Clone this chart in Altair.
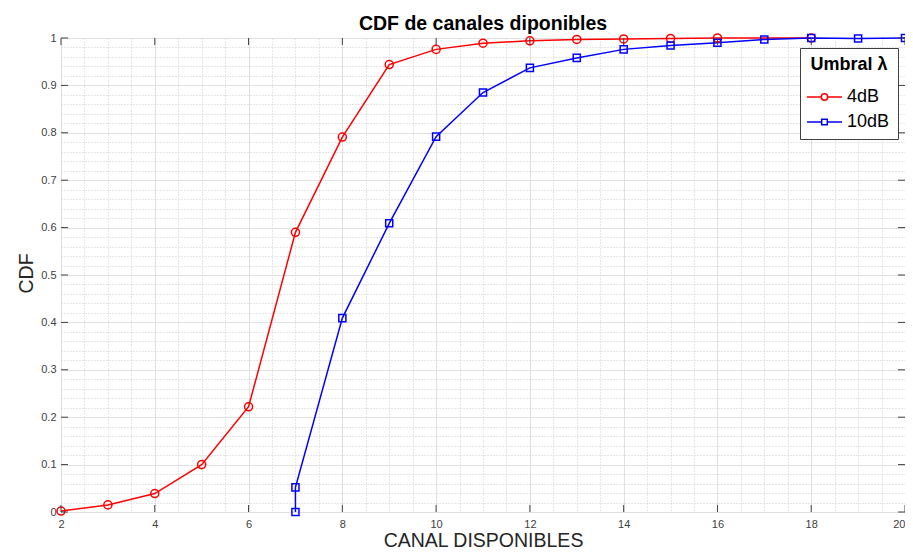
import altair as alt
import pandas as pd

# ---------------- data ----------------
series_names = ["4dB", "10dB"]
series_colors = ["#ff0000", "#0000ff"]

x_4db = [2, 3, 4, 5, 6, 7, 8, 9, 10, 11, 12, 13, 14, 15, 16, 18]
y_4db = [0.002, 0.015, 0.039, 0.100, 0.222, 0.590, 0.791, 0.944, 0.976,
         0.989, 0.994, 0.997, 0.998, 0.999, 1.0, 1.0]

x_10db = [7, 7, 8, 9, 10, 11, 12, 13, 14, 15, 16, 17, 18, 19, 20]
y_10db = [0.0, 0.052, 0.409, 0.609, 0.792, 0.885, 0.937, 0.958, 0.976,
          0.984, 0.990, 0.997, 1.0, 0.999, 1.0]

x_major = [2, 4, 6, 8, 10, 12, 14, 16, 18, 20]
y_major = [0, 0.1, 0.2, 0.3, 0.4, 0.5, 0.6, 0.7, 0.8, 0.9, 1.0]
x_grid = [2 + 0.5 * i for i in range(37)]
y_grid = [round(0.02 * i, 2) for i in range(51)]

# legend symbols: short line with a marker (circle for 4dB, square for 10dB)
legend_paths = [
    "M-1.2,0H0.23M0.87,0H2.3M0.87,0A0.32,0.32,0,1,1,0.23,0A0.32,0.32,0,1,1,0.87,0",
    "M-1.2,0H0.27M0.83,0H2.3M0.27,-0.28H0.83V0.28H0.27Z",
]

rows = []
for i, (x, y) in enumerate(zip(x_4db, y_4db)):
    rows.append({"series": "4dB", "x": x, "y": y, "idx": i})
for i, (x, y) in enumerate(zip(x_10db, y_10db)):
    rows.append({"series": "10dB", "x": x, "y": y, "idx": i})
df = pd.DataFrame(rows)

W, H = 844, 474
FONT = "Liberation Sans"
AX = "#404040"

xscale = alt.Scale(domain=[2, 20], nice=False, zero=False)
yscale = alt.Scale(domain=[0, 1], nice=False, zero=False)
cscale = alt.Scale(domain=series_names, range=series_colors)

x_major_test = "datum.value % 2 === 0"
y_major_test = "abs(datum.value * 10 - round(datum.value * 10)) < 0.001"

x_axis = alt.Axis(
    values=x_grid, title="CANAL DISPONIBLES", grid=True,
    gridColor={"condition": {"test": x_major_test, "value": "#e0e0e0"}, "value": "#cdcdcd"},
    gridDash={"condition": {"test": x_major_test, "value": []}, "value": [1, 2]},
    gridWidth=1, ticks=False, domain=False,
    labelExpr=f"{x_major_test} ? format(datum.value, 'd') : ''",
    labelAlign={"condition": {"test": "datum.value === 20", "value": "right"}, "value": "center"},
    labelFont=FONT, labelFontSize=11, labelColor=AX, labelPadding=6,
    labelOverlap=False, labelFlush=False, labelBound=False,
    titleFont=FONT, titleFontSize=19.5, titleFontWeight="normal", titleColor="#262626",
    titleBaseline="alphabetic", titleY=34, titleX=W / 2,
)
y_axis = alt.Axis(
    values=y_grid, title="CDF", grid=True,
    gridColor={"condition": {"test": y_major_test, "value": "#e0e0e0"}, "value": "#cdcdcd"},
    gridDash={"condition": {"test": y_major_test, "value": []}, "value": [1, 2]},
    gridWidth=1, ticks=False, domain=False,
    labelExpr=f"{y_major_test} ? format(datum.value, '~g') : ''",
    labelFont=FONT, labelFontSize=11, labelColor=AX, labelPadding=5,
    labelOverlap=False, labelBound=False,
    titleFont=FONT, titleFontSize=19.5, titleFontWeight="normal", titleColor="#262626",
    titleAngle=270, titleBaseline="alphabetic", titleX=-29, titleY=235, titleAlign="center",
)

X = alt.X("x:Q", scale=xscale, axis=x_axis)
Y = alt.Y("y:Q", scale=yscale, axis=y_axis)
C = alt.Color("series:N", scale=cscale)

legend = alt.Legend(
    title="Umbral λ", orient="none", legendX=739, legendY=10,
    titleFont=FONT, titleFontSize=18, titleFontWeight="bold", titleColor="#000000",
    titleAnchor="middle", titlePadding=12,
    labelFont=FONT, labelFontSize=18, labelColor="#000000", labelOffset=17,
    symbolSize=400, symbolStrokeWidth=1.5,
    rowPadding=5, padding=8, strokeColor="#404040", fillColor="#ffffff",
)

base = alt.Chart(df)

# invisible layer that carries the legend (line + marker symbols)
legend_layer = base.mark_point(filled=False, opacity=0).encode(
    x=X, y=Y,
    color=alt.Color("series:N", scale=cscale, legend=legend),
    shape=alt.Shape("series:N", scale=alt.Scale(domain=series_names, range=legend_paths),
                    legend=legend),
)

lines = base.mark_line(strokeWidth=1.5).encode(
    x=X, y=Y, color=C, detail="series:N", order="idx:Q",
)

pts_red = base.transform_filter(alt.datum.series == "4dB").mark_point(
    shape="circle", filled=False, size=65, strokeWidth=1.5, opacity=1
).encode(x=X, y=Y, color=C)
pts_blue = base.transform_filter(alt.datum.series == "10dB").mark_point(
    shape="square", filled=False, size=50, strokeWidth=1.5, opacity=1
).encode(x=X, y=Y, color=C)

# inward ticks (MATLAB style box)
tx = pd.DataFrame({"x": x_major})
ty = pd.DataFrame({"y": y_major})
TL = 7
tick_bottom = alt.Chart(tx).mark_rule(color="#404040", strokeWidth=1).encode(
    x=X, y=alt.value(H), y2=alt.value(H - TL))
tick_top = alt.Chart(tx).mark_rule(color="#404040", strokeWidth=1).encode(
    x=X, y=alt.value(0), y2=alt.value(TL))
tick_left = alt.Chart(ty).mark_rule(color="#404040", strokeWidth=1).encode(
    y=Y, x=alt.value(0), x2=alt.value(TL))
tick_right = alt.Chart(ty).mark_rule(color="#404040", strokeWidth=1).encode(
    y=Y, x=alt.value(W), x2=alt.value(W - TL))

chart = alt.layer(
    legend_layer, lines, pts_red, pts_blue,
    tick_bottom, tick_top, tick_left, tick_right,
).properties(
    width=W, height=H,
    title=alt.TitleParams(
        "CDF de canales diponibles", font=FONT, fontSize=19.5, fontWeight="bold",
        color="#000000", anchor="middle", offset=10, dy=14,
    ),
    autosize=alt.AutoSizeParams(type="none"),
    padding={"left": 53, "top": 30, "right": 0, "bottom": 38},
).configure_view(
    stroke="#555555", strokeWidth=1,
).configure(background="#ffffff")

chart.save("out.html", embed_options={"renderer": "svg", "actions": False})
